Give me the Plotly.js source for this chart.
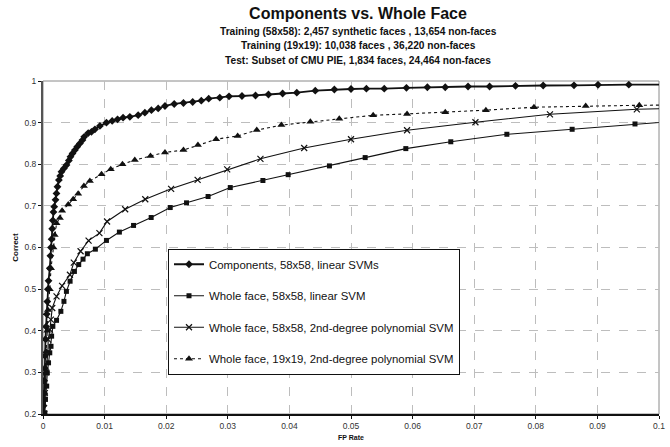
<!DOCTYPE html>
<html>
<head>
<meta charset="utf-8">
<script src="https://cdn.plot.ly/plotly-3.0.1.min.js"></script>
<style>html,body{margin:0;padding:0;background:#fff;}#chart{width:670px;height:447px;}</style>
</head>
<body>
<div id="chart"></div>
<script>
// ---- Data ----
var seriesNames = [
  "Components, 58x58, linear SVMs",
  "Whole face, 58x58, linear SVM",
  "Whole face, 58x58, 2nd-degree polynomial SVM",
  "Whole face, 19x19, 2nd-degree polynomial SVM"
];

var compX = [0.0001,0.0001,0.0002,0.0002,0.0003,0.0003,0.0004,0.0005,0.0006,0.0007,0.0008,0.0009,0.0011,0.0012,0.0013,0.0014,0.0015,0.0016,0.0017,
  0.00182,0.00203,0.00219,0.00235,0.00258,0.00279,0.0030,0.00339,0.00381,0.0042,0.00446,0.00479,0.00518,0.00555,0.00599,0.00641,0.00669,0.00734,0.00787,0.00843,0.00924,0.0103,0.01123,0.0121,0.0130,0.0141,0.01545,0.01654,0.0176,0.0187,0.0198,
  0.0213,0.0228,0.0243,0.0257,0.0269,0.0287,0.0302,0.0323,0.0345,0.0366,0.0389,0.0412,0.0442,0.0473,0.0500,0.0525,0.0554,0.0590,0.0624,0.0653,0.0690,0.0725,0.0767,0.0812,0.0862,0.0901,0.0951,0.104];
var compY = [0.20,0.22,0.25,0.28,0.31,0.34,0.38,0.41,0.44,0.47,0.50,0.52,0.55,0.58,0.60,0.62,0.645,0.665,0.685,
  0.698,0.7145,0.730,0.746,0.762,0.772,0.782,0.790,0.798,0.809,0.818,0.826,0.834,0.842,0.850,0.858,0.866,0.875,0.878,0.884,0.892,0.900,0.904,0.908,0.912,0.914,0.918,0.924,0.930,0.934,0.940,
  0.9448,0.9472,0.9496,0.9527,0.9575,0.960,0.9633,0.964,0.9652,0.9676,0.970,0.972,0.9767,0.9796,0.9808,0.9815,0.9815,0.9837,0.985,0.985,0.9868,0.9868,0.9885,0.9892,0.9897,0.9909,0.9911,0.9913];

var linX = [0.0003,0.0004,0.0006,0.0007,0.0009,0.0011,0.0013,0.0014,0.0016,0.0022,0.0029,0.0034,0.0038,0.0044,0.0051,0.0058,0.0065,0.0072,0.0085,0.0103,0.0124,0.0147,0.01756,0.02065,0.0233,0.0268,0.0304,0.0357,0.0398,0.0465,0.0523,0.0589,0.0662,0.0753,0.0859,0.0961,0.104];
var linY = [0.203,0.235,0.267,0.299,0.323,0.347,0.3626,0.387,0.4106,0.425,0.4466,0.4706,0.4946,0.519,0.5425,0.559,0.572,0.585,0.596,0.617,0.637,0.653,0.672,0.696,0.7073,0.7225,0.744,0.761,0.775,0.796,0.816,0.8376,0.854,0.872,0.884,0.8968,0.905];

var polyX = [0.0002,0.0003,0.0005,0.0008,0.00084,0.00112,0.00128,0.0015,0.0022,0.0031,0.00437,0.0050,0.0061,0.0074,0.00916,0.0104,0.01334,0.0166,0.0208,0.0251,0.0299,0.0353,0.0424,0.0500,0.0591,0.0702,0.0823,0.0964,0.104];
var polyY = [0.20,0.25,0.30,0.35,0.3787,0.4027,0.4267,0.4547,0.4826,0.508,0.5346,0.5637,0.591,0.6165,0.6346,0.6625,0.692,0.716,0.741,0.7625,0.7877,0.813,0.839,0.860,0.8817,0.901,0.920,0.932,0.9345];

var p19X = [0.0001,0.0002,0.0004,0.0005,0.0007,0.0008,0.0011,0.0013,0.0017,0.0019,0.0022,0.00274,0.0031,0.0041,0.0049,0.00571,0.00664,0.00761,0.0095,0.0110,0.0129,0.0149,0.01745,0.0198,0.0228,0.02515,0.0281,0.0316,0.0347,0.0387,0.0434,0.0481,0.0536,0.0591,0.0653,0.0719,0.0797,0.0881,0.0968,0.104];
var p19Y = [0.20,0.25,0.30,0.35,0.40,0.45,0.50,0.55,0.60,0.63,0.658,0.671,0.688,0.7035,0.716,0.729,0.748,0.760,0.776,0.788,0.800,0.810,0.820,0.8285,0.834,0.846,0.860,0.868,0.882,0.894,0.902,0.9096,0.9177,0.921,0.925,0.930,0.937,0.940,0.9417,0.9425];

var xTicks = [0,0.01,0.02,0.03,0.04,0.05,0.06,0.07,0.08,0.09,0.1];
var yTicks = [0.2,0.3,0.4,0.5,0.6,0.7,0.8,0.9,1];

var titleText = "Components vs. Whole Face";
var subtitleLines = [
  "Training (58x58): 2,457 synthetic faces , 13,654 non-faces",
  "Training (19x19): 10,038 faces , 36,220 non-faces",
  "Test: Subset of CMU PIE, 1,834 faces, 24,464 non-faces"
];

// ---- Chart ----
var FONT = "Liberation Sans, Arial, sans-serif";
var traces = [
  {x: compX, y: compY, name: seriesNames[0], legendgroup: "a", mode: "lines+markers",
   line: {color: "#111", width: 1.8},
   marker: {symbol: "diamond", size: 6, color: "#111"}},
  {x: linX, y: linY, name: seriesNames[1], legendgroup: "b", mode: "lines+markers",
   line: {color: "#111", width: 1.1},
   marker: {symbol: "square", size: 5, color: "#111"}},
  {x: polyX, y: polyY, name: seriesNames[2], legendgroup: "c", mode: "lines+markers",
   line: {color: "#111", width: 1.1},
   marker: {symbol: "x-thin-open", size: 6, color: "#111", line: {color: "#111", width: 1.2}}},
  {x: p19X, y: p19Y, name: seriesNames[3], legendgroup: "d", mode: "lines+markers",
   line: {color: "#111", width: 1.1, dash: "dot"},
   marker: {symbol: "triangle-up", size: 7, color: "#111"}}
];

var annotations = subtitleLines.map(function(t, i){
  return {text: "<b>" + t + "</b>", xref: "paper", yref: "paper",
    x: (358 - 43) / 616, y: (414.5 - (31 + i * 14.5)) / 333.5,
    xanchor: "center", yanchor: "middle", showarrow: false,
    font: {family: FONT, size: 10.2, color: "#111"}};
});

var layout = {
  width: 670, height: 447,
  margin: {l: 43, r: 11, t: 81, b: 32.5},
  paper_bgcolor: "#fff", plot_bgcolor: "#fff",
  font: {family: FONT, color: "#111"},
  title: {text: "<b>" + titleText + "</b>", font: {family: FONT, size: 16, color: "#111"},
    xref: "container", yref: "container", x: 358 / 670, xanchor: "center",
    y: 1 - 13 / 447, yanchor: "middle"},
  xaxis: {range: [0, 0.1], tickvals: xTicks, ticktext: xTicks.map(String),
    showgrid: true, gridcolor: "#bdbdbd", griddash: "dash", gridwidth: 1,
    zeroline: false, showline: true, linecolor: "#111", linewidth: 1.5,
    ticks: "outside", ticklen: 3, tickcolor: "#111", tickwidth: 1,
    tickfont: {family: FONT, size: 8.5, color: "#333"},
    title: {text: "<b>FP Rate</b>", font: {family: FONT, size: 7, color: "#111"}, standoff: 5}},
  yaxis: {range: [0.2, 1], tickvals: yTicks, ticktext: yTicks.map(String),
    showgrid: true, gridcolor: "#bdbdbd", griddash: "dash", gridwidth: 1,
    zeroline: false, showline: true, linecolor: "#555", linewidth: 2,
    ticks: "outside", ticklen: 3, tickcolor: "#111", tickwidth: 1,
    tickfont: {family: FONT, size: 8.5, color: "#333"},
    title: {text: "<b>Correct</b>", font: {family: FONT, size: 8, color: "#111"}, standoff: 5}},
  shapes: [{type: "rect", xref: "paper", yref: "paper", x0: 0, x1: 1, y0: 0, y1: 1,
    line: {color: "#8a8a8a", width: 1}, layer: "below"}],
  legend: {x: (168 - 43) / 616, y: (414.5 - 249) / 333.5, xanchor: "left", yanchor: "top",
    bgcolor: "#fff", bordercolor: "#111", borderwidth: 1,
    font: {family: FONT, size: 11.4, color: "#111"},
    traceorder: "grouped", tracegroupgap: 12.5, itemwidth: 30},
  annotations: annotations,
  showlegend: true
};

Plotly.newPlot("chart", traces, layout, {staticPlot: true, displayModeBar: false});
</script>
</body>
</html>
